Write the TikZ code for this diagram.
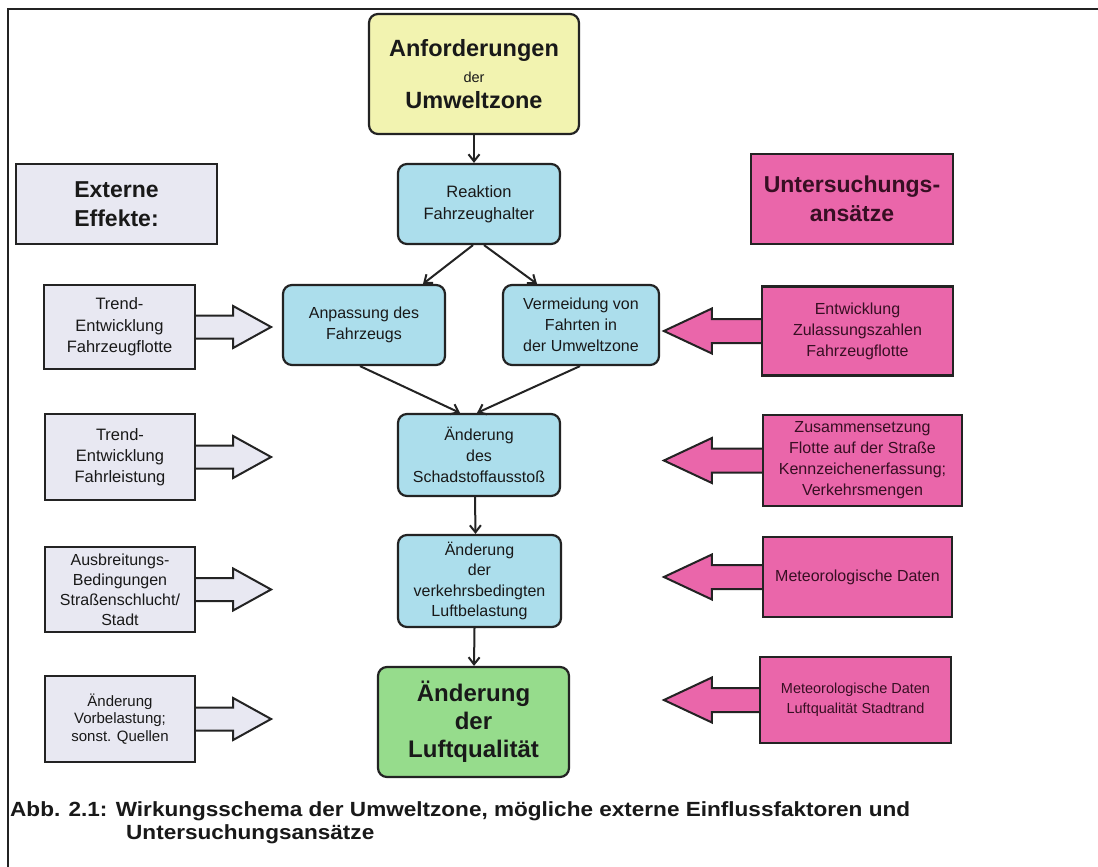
\documentclass[tikz,border=0pt]{standalone}
\usepackage{fontspec}
\setmainfont{Liberation Sans}
\usetikzlibrary{calc,arrows.meta}
\definecolor{yellowfill}{RGB}{242,243,176}
\definecolor{bluefill}{RGB}{172,222,236}
\definecolor{greenfill}{RGB}{150,220,140}
\definecolor{pinkfill}{RGB}{234,102,170}
\definecolor{grayfill}{RGB}{232,232,242}
\definecolor{linec}{RGB}{35,35,35}
\definecolor{textc}{RGB}{25,25,25}
\definecolor{pinktext}{RGB}{55,15,35}
\tikzset{
  box/.style={draw=linec, line width=2.2pt, align=center, inner sep=0pt, text=textc,
              font=\fontsize{16}{21}\selectfont},
  rbox/.style={box, rounded corners=9pt},
  conn/.style={draw=linec, line width=2pt, -{Straight Barb[length=7pt,width=11pt]}},
  blockline/.style={draw=linec, line width=2pt, line join=miter},
}
\newcommand\blockarrowright[2]{%
  \draw[blockline, fill=#2] ($(#1.east)+(0,-11.5)$) -- ++(37,0) -- ++(0,-9.5) -- ++(38,21) -- ++(-38,21) -- ++(0,-9.5) -- ($(#1.east)+(0,11.5)$);}
\newcommand\blockarrowleft[3]{%
  \draw[blockline, fill=#2] ($(#1.west)+(0,-12)$) -- ++(-#3,0) -- ++(0,-10.5) -- ++(-48,22.5) -- ++(48,22.5) -- ++(0,-10.5) -- ($(#1.west)+(0,12)$);}
\begin{document}
\begin{tikzpicture}[x=1pt,y=-1pt]
\fill[white] (0,0) rectangle (1098,867);
\useasboundingbox (0,0) rectangle (1098,867);
% frame
\draw[linec, line width=2.4pt] (8,867) -- (8,9) -- (1098,9);

% central chain
\node[rbox, fill=yellowfill, minimum width=210pt, minimum height=120pt,
      font=\bfseries\fontsize{23.5}{26}\selectfont] (yel) at (474,74)
  {Anforderungen\\{\mdseries\fontsize{14.5}{26}\selectfont der}\\Umweltzone};
\node[rbox, fill=bluefill, minimum width=162pt, minimum height=80pt,
      font=\fontsize{16.5}{22}\selectfont] (reak) at (479,204) {Reaktion\\Fahrzeughalter};
\node[rbox, fill=bluefill, minimum width=162pt, minimum height=80pt] (anp) at (364,325)
  {Anpassung des\\Fahrzeugs};
\node[rbox, fill=bluefill, minimum width=156pt, minimum height=80pt] (vm) at (581,325)
  {Vermeidung von\\Fahrten in\\der Umweltzone};
\node[rbox, fill=bluefill, minimum width=162pt, minimum height=82pt] (aend1) at (479,455)
  {Änderung\\des\\Schadstoffausstoß};
\node[rbox, fill=bluefill, minimum width=163pt, minimum height=92pt,
      font=\fontsize{16}{20.5}\selectfont] (aend2) at (479.5,581)
  {Änderung\\der\\verkehrsbedingten\\Luftbelastung};
\node[rbox, fill=greenfill, minimum width=191pt, minimum height=110pt,
      font=\bfseries\fontsize{24}{28}\selectfont] (green) at (473.5,722)
  {Änderung\\der\\Luftqualität};

% connectors
\draw[conn] (yel.south) -- (yel.south |- reak.north);
\draw[conn] ($(reak.south)+(-6,0)$) -- ($(anp.north)+(59,0)$);
\draw[conn] ($(reak.south)+(5,0)$) -- ($(vm.north)+(-44,0)$);
\draw[conn] ($(anp.south)+(-4,0)$) -- ($(aend1.north)+(-19,0)$);
\draw[conn] ($(vm.south)+(-1,0)$) -- ($(aend1.north)+(-2,0)$);
\draw[conn] ($(aend1.south)+(-4,0)$) -- ($(aend2.north)+(-4,0)$);
\draw[conn] ($(aend2.south)+(-5,0)$) -- ($(green.north)+(0.5,0)$);

% left column: external effects
\node[box, fill=grayfill, minimum width=201pt, minimum height=80pt,
      font=\bfseries\fontsize{23}{29}\selectfont] (ext) at (116.5,204) {Externe\\Effekte:};
\node[box, fill=grayfill, minimum width=151pt, minimum height=84pt,
      font=\fontsize{16.5}{21.5}\selectfont] (t1) at (119.5,327)
  {Trend-\\Entwicklung\\Fahrzeugflotte};
\node[box, fill=grayfill, minimum width=150pt, minimum height=86pt,
      font=\fontsize{16.5}{21}\selectfont] (t2) at (120,457)
  {Trend-\\Entwicklung\\Fahrleistung};
\node[box, fill=grayfill, minimum width=150pt, minimum height=85pt,
      font=\fontsize{16}{20}\selectfont] (t3) at (120,589.5)
  {Ausbreitungs-\\Bedingungen\\Straßenschlucht/\\Stadt};
\node[box, fill=grayfill, minimum width=150pt, minimum height=86pt,
      font=\fontsize{15}{17.5}\selectfont] (t4) at (120,719)
  {Änderung\\Vorbelastung;\\sonst. Quellen};
\blockarrowright{t1}{grayfill}
\blockarrowright{t2}{grayfill}
\blockarrowright{t3}{grayfill}
\blockarrowright{t4}{grayfill}

% right column: investigation approaches
\node[box, fill=pinkfill, minimum width=202pt, minimum height=90pt, text=pinktext,
      font=\bfseries\fontsize{23}{29}\selectfont] (unt) at (852,199) {Untersuchungs-\\ansätze};
\node[box, fill=pinkfill, minimum width=191pt, minimum height=89pt, text=pinktext] (p1) at (857.5,331)
  {Entwicklung\\Zulassungszahlen\\Fahrzeugflotte};
\node[box, fill=pinkfill, minimum width=199pt, minimum height=91pt, text=pinktext] (p2) at (862.5,460.5)
  {Zusammensetzung\\Flotte auf der Straße\\Kennzeichenerfassung;\\Verkehrsmengen};
\node[box, fill=pinkfill, minimum width=189pt, minimum height=80pt, text=pinktext] (p3) at (857.5,577)
  {Meteorologische Daten};
\node[box, fill=pinkfill, minimum width=191pt, minimum height=86pt, text=pinktext,
      font=\fontsize{14.5}{20}\selectfont] (p4) at (855.5,700)
  {Meteorologische Daten\\Luftqualität Stadtrand};
\blockarrowleft{p1}{pinkfill}{49}
\blockarrowleft{p2}{pinkfill}{50}
\blockarrowleft{p3}{pinkfill}{50}
\blockarrowleft{p4}{pinkfill}{47}

% caption
\node[anchor=base west, inner sep=0pt, text=textc, font=\bfseries\fontsize{20.5}{24}\selectfont] (cap1) at (10,816)
  {\scalebox{1.10}[1]{Abb. 2.1: Wirkungsschema der Umweltzone, mögliche externe Einflussfaktoren und}};
\node[anchor=base west, inner sep=0pt, text=textc, font=\bfseries\fontsize{20.5}{24}\selectfont] (cap2) at (126,839)
  {\scalebox{1.10}[1]{Untersuchungsansätze}};
\end{tikzpicture}
\end{document}
